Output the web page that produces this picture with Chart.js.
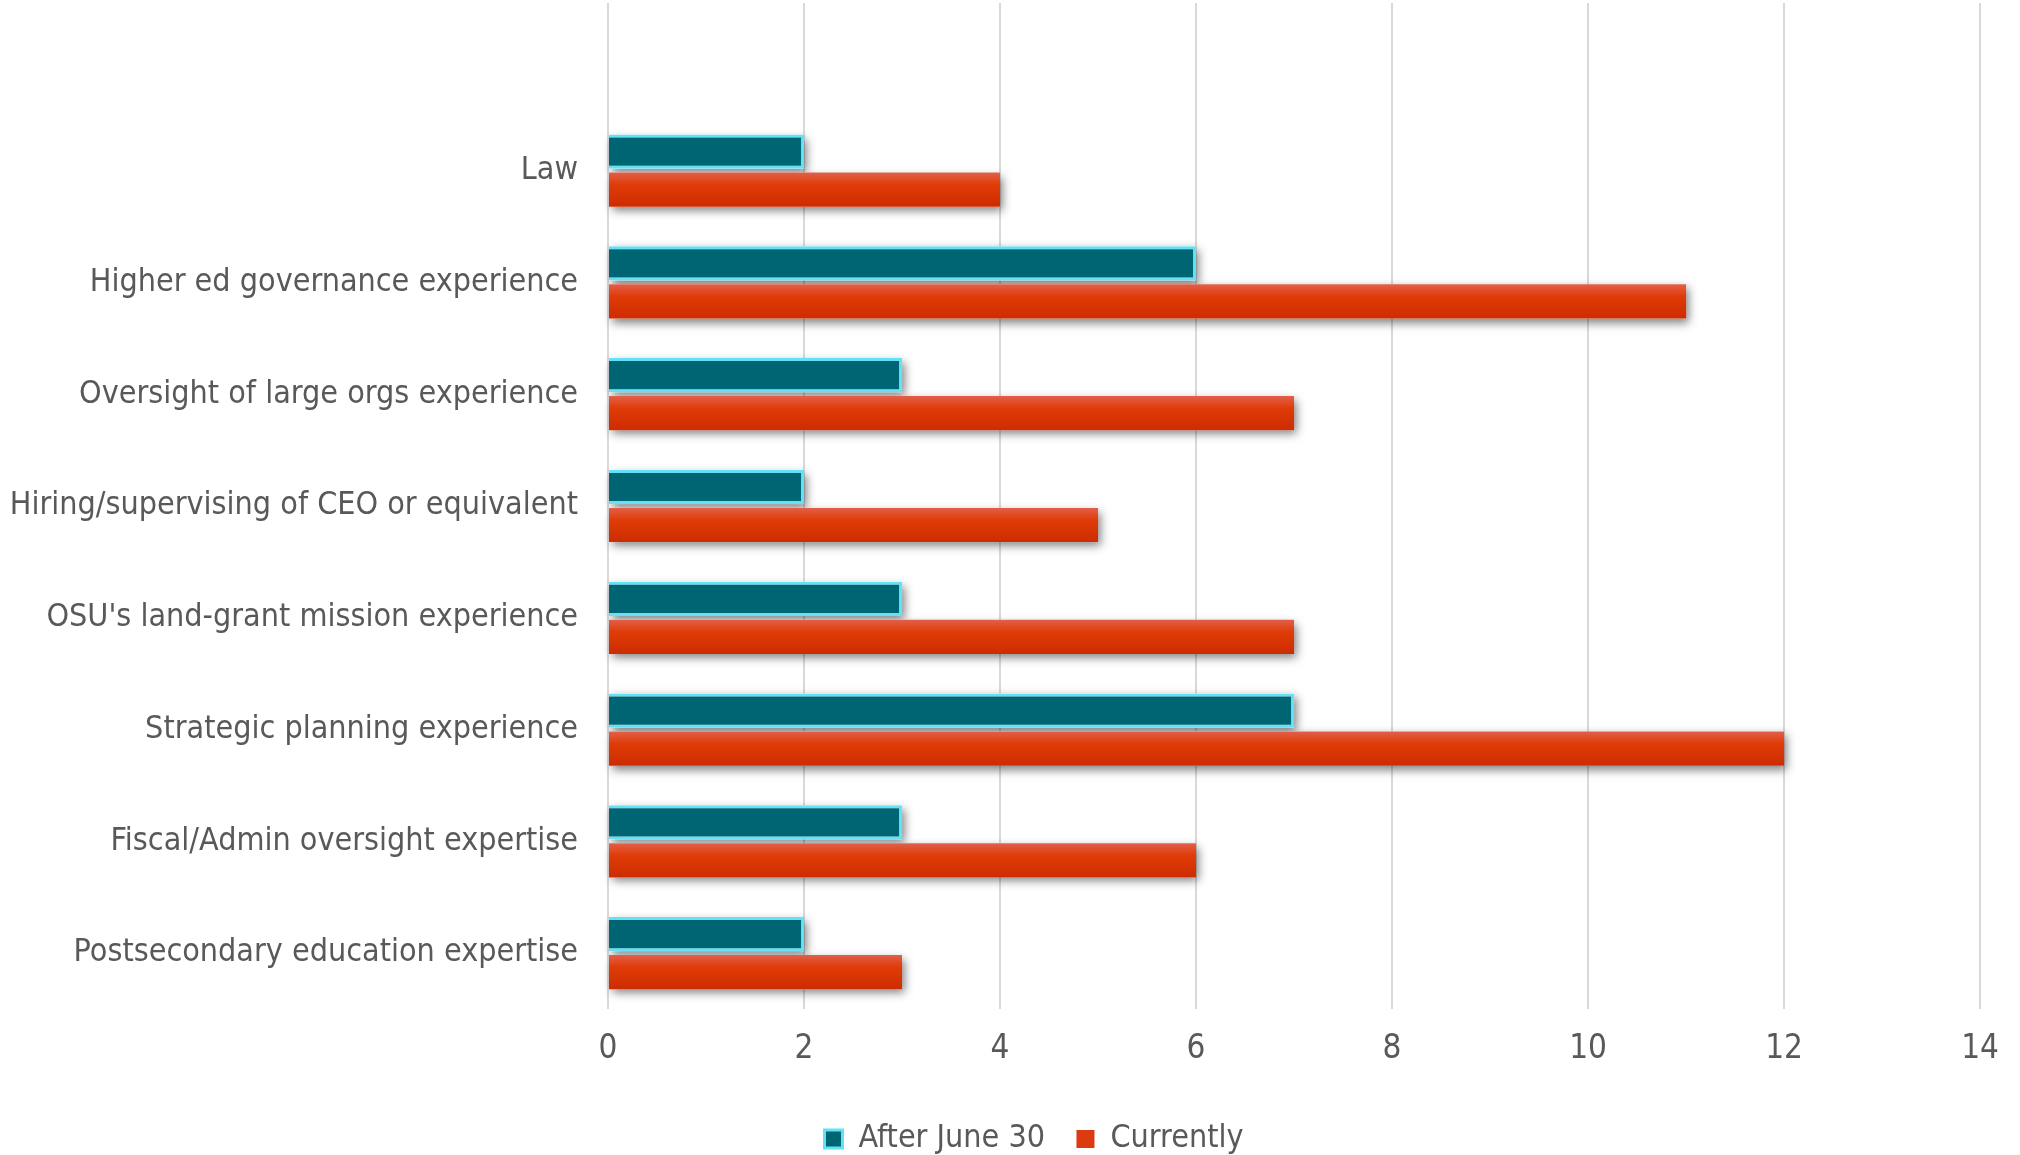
<!DOCTYPE html>
<html>
<head>
<meta charset="utf-8">
<script src="https://cdn.jsdelivr.net/npm/chart.js@4.4.1/dist/chart.umd.min.js"></script>
<style>
  html, body { margin: 0; padding: 0; background: #ffffff; }
  #wrap { width: 2020px; height: 1155px; }
</style>
</head>
<body>
<div id="wrap"><canvas id="myChart" width="2020" height="1155"></canvas></div>
<script>
// board expertise counts, top row is left blank
const categories = [
  "",
  "Law",
  "Higher ed governance experience",
  "Oversight of large orgs experience",
  "Hiring/supervising of CEO or equivalent",
  "OSU's land-grant mission experience",
  "Strategic planning experience",
  "Fiscal/Admin oversight expertise",
  "Postsecondary education expertise"
];
const afterJune30 = [null, 2, 6, 3, 2, 3, 7, 3, 2];
const currently = [null, 4, 11, 7, 5, 7, 12, 6, 3];
const xTicks = [0, 2, 4, 6, 8, 10, 12, 14];

const FONT = "'DejaVu Sans Condensed', 'DejaVu Sans', sans-serif";
const TEXT = "#595959";

// red bars get a vertical gradient once the bar has a position
function redFill(context) {
  const el = context.element;
  if (!el || el.y === undefined || !el.height) return "#dc3a10";
  const top = el.y - el.height / 2;
  const g = context.chart.ctx.createLinearGradient(0, top, 0, top + el.height);
  g.addColorStop(0, "#e0604a");
  g.addColorStop(0.35, "#e03c08");
  g.addColorStop(1, "#cd2c00");
  return g;
}

// soft drop shadow under every bar
const barShadow = {
  id: "barShadow",
  beforeDatasetsDraw(chart) {
    const c = chart.ctx;
    c.save();
    c.shadowColor = "rgba(0,0,0,0.5)";
    c.shadowBlur = 9;
    c.shadowOffsetX = 3;
    c.shadowOffsetY = 4;
    c.fillStyle = "#ffffff";
    chart.data.datasets.forEach((ds, i) => {
      chart.getDatasetMeta(i).data.forEach((bar) => {
        if (bar.skip || bar.x === undefined || isNaN(bar.x)) return;
        const w = bar.x - bar.base;
        if (!w) return;
        c.fillRect(bar.base, bar.y - bar.height / 2, w, bar.height);
      });
    });
    c.restore();
  }
};

// legend sits a bit right of the canvas middle
const legendShift = {
  id: "legendShift",
  afterLayout(chart) {
    if (chart.legend) chart.legend.left = 78;
  }
};

const ctx = document.getElementById("myChart");

const mine = new Chart(ctx, {
  type: "bar",
  data: {
    labels: categories,
    datasets: [
      {
        label: "After June 30",
        data: afterJune30,
        backgroundColor: "#006573",
        borderColor: "#62e2f6",
        borderWidth: 3,
        borderSkipped: "start",
        categoryPercentage: 0.68,
        barPercentage: 0.9
      },
      {
        label: "Currently",
        data: currently,
        backgroundColor: redFill,
        borderWidth: 0,
        categoryPercentage: 0.68,
        barPercentage: 0.9
      }
    ]
  },
  options: {
    indexAxis: "y",
    responsive: false,
    animation: false,
    layout: { padding: { top: 3, right: 30, left: 0, bottom: -10 } },
    scales: {
      x: {
        min: 0,
        max: 14,
        afterBuildTicks: (scale) => {
          scale.ticks = xTicks.map((v) => ({ value: v }));
        },
        afterFit: (scale) => {
          scale.height = 110;
        },
        grid: { color: "#d9d9d9", lineWidth: 2, drawTicks: false },
        border: { display: false },
        ticks: {
          padding: 21,
          color: TEXT,
          font: { family: FONT, size: 33 }
        }
      },
      y: {
        afterFit: (scale) => {
          scale.width = 608;
          scale.paddingTop = 0;
          scale.paddingBottom = 0;
        },
        grid: { display: false, drawTicks: false },
        border: { display: false },
        ticks: {
          padding: 30,
          color: TEXT,
          font: { family: FONT, size: 32 }
        }
      }
    },
    plugins: {
      tooltip: { enabled: false },
      legend: {
        position: "bottom",
        labels: {
          color: TEXT,
          font: { family: FONT, size: 32 },
          boxWidth: 18,
          boxHeight: 18,
          padding: 4,
          generateLabels: (chart) => {
            const items = Chart.defaults.plugins.legend.labels.generateLabels(chart);
            // trailing spaces keep the two entries apart
            items[0].text = items[0].text + "   ";
            items[0].fillStyle = "#006573";
            items[0].strokeStyle = "#62e2f6";
            items[0].lineWidth = 3;
            items[1].fillStyle = "#dc3a10";
            items[1].lineWidth = 0;
            return items;
          }
        }
      }
    }
  },
  plugins: [barShadow, legendShift]
});

// second pass so the gradient can use the laid out bar positions
mine.update("none");
</script>
</body>
</html>
